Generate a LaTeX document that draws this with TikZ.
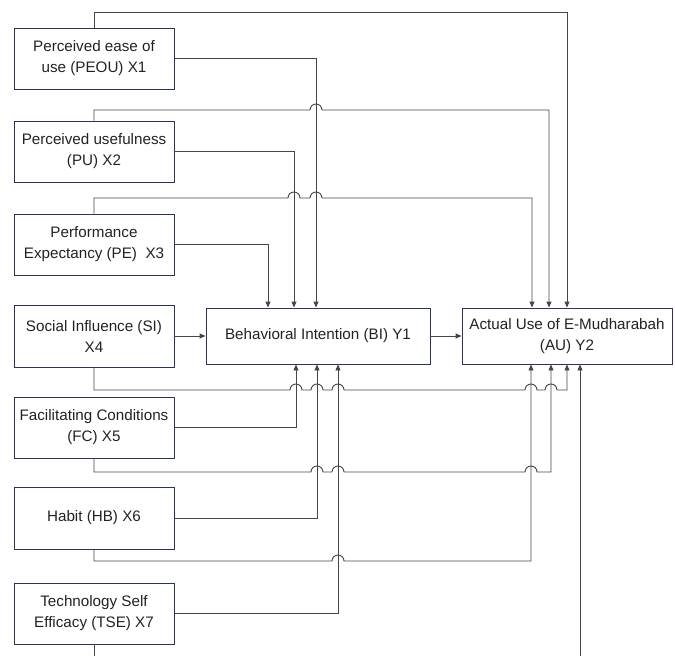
\documentclass[tikz,border=0pt]{standalone}
\usepackage{fontspec}
\setmainfont{Liberation Sans}
\usetikzlibrary{arrows.meta}
\definecolor{boxc}{RGB}{42,52,84}
\definecolor{linec}{RGB}{70,70,70}
\definecolor{txtc}{RGB}{34,34,34}
\begin{document}
\begin{tikzpicture}[x=1pt,y=-1pt,
  var/.style={draw=boxc, line width=0.9pt, minimum width=160pt, minimum height=61pt,
    inner sep=2pt, align=center, text=txtc, font=\fontsize{15.2}{21}\selectfont},
  conn/.style={draw=linec, line width=0.9pt},
  arr/.style={conn, -{Triangle[length=6pt,width=5pt]}},
  hop/.style={}
]
\useasboundingbox (0,0) rectangle (675,656);
\clip (0,0) rectangle (675,656);

\node[var] (peou) at (94,58.5) {Perceived ease of\\use (PEOU) X1};
\node[var] (pu) at (94,151.5) {Perceived usefulness\\(PU) X2};
\node[var] (pe) at (94,244.5) {Performance\\Expectancy (PE)\ \ X3};
\node[var, minimum height=62pt] (si) at (94,336) {Social Influence (SI)\\X4};
\node[var] (fc) at (94,427.5) {Facilitating Conditions\\(FC) X5};
\node[var, minimum height=62pt] (hb) at (94,518) {Habit (HB) X6};
\node[var] (tse) at (94,613.5) {Technology Self\\Efficacy (TSE) X7};
\node[var, minimum width=224pt, minimum height=56pt] (bi) at (318,336) {Behavioral Intention (BI) Y1};
\node[var, minimum width=210pt, minimum height=56pt] (au) at (567,336) {Actual Use of E-Mudharabah\\(AU) Y2};

% into AU from top
\draw[arr] (peou.north) -- (94,12) -- (567,12) -- (au.north);
\draw[arr] (pu.north) -- (94,110) -- (310,110) arc[start angle=180,end angle=0,radius=6pt]
  -- (549,110) -- ([xshift=-18pt]au.north);
\draw[arr] (pe.north) -- (94,198) -- (288,198) arc[start angle=180,end angle=0,radius=6pt]
  -- (310,198) arc[start angle=180,end angle=0,radius=6pt]
  -- (532,198) -- ([xshift=-35pt]au.north);

% into BI from top
\draw[arr] (peou.east) -| ([xshift=-2pt]bi.north);
\draw[arr] (pu.east) -| ([xshift=-24pt]bi.north);
\draw[arr] (pe.east) -| ([xshift=-50pt]bi.north);

% horizontal
\draw[arr] (si.east) -- (bi.west);
\draw[arr] (bi.east) -- (au.west);

% into BI from bottom
\draw[arr] (fc.east) -| ([xshift=-22pt]bi.south);
\draw[arr] (hb.east) -| ([xshift=-1pt]bi.south);
\draw[arr] (tse.east) -| ([xshift=20pt]bi.south);

% into AU from bottom
\draw[arr] (si.south) -- (94,390) -- (290,390) arc[start angle=180,end angle=0,radius=6pt]
  -- (311,390) arc[start angle=180,end angle=0,radius=6pt]
  -- (332,390) arc[start angle=180,end angle=0,radius=6pt]
  -- (525,390) arc[start angle=180,end angle=0,radius=6pt]
  -- (545,390) arc[start angle=180,end angle=0,radius=6pt]
  -- (567,390) -- (au.south);
\draw[arr] (fc.south) -- (94,472) -- (311,472) arc[start angle=180,end angle=0,radius=6pt]
  -- (332,472) arc[start angle=180,end angle=0,radius=6pt]
  -- (525,472) arc[start angle=180,end angle=0,radius=6pt]
  -- (551,472) -- ([xshift=-16pt]au.south);
\draw[arr] (hb.south) -- (94,561) -- (332,561) arc[start angle=180,end angle=0,radius=6pt]
  -- (531,561) -- ([xshift=-36pt]au.south);
\draw[arr] (tse.south) -- (94,672) -- (580,672) -- ([xshift=13pt]au.south);
\end{tikzpicture}
\end{document}
